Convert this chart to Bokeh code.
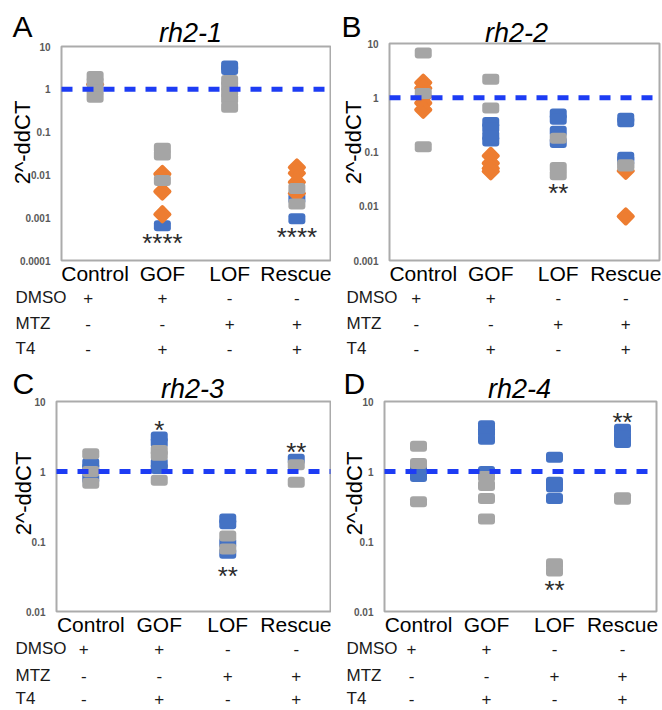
import math
from bokeh.plotting import figure
from bokeh.models import Range1d, Label, FixedTicker, CustomJSTickFormatter
from bokeh.layouts import row, column
from bokeh.embed import file_html
from bokeh.resources import INLINE
from bokeh.core.properties import value

# ---------------- data ----------------
CATEGORIES = ["Control", "GOF", "LOF", "Rescue"]
CONDITIONS = ["DMSO", "MTZ", "T4"]
DMSO_SIGNS = ["+", "+", "-", "-"]
MTZ_SIGNS = ["-", "-", "+", "+"]
T4_SIGNS = ["-", "+", "-", "+"]

LETTERS = ["A", "B", "C", "D"]
GENES = ["rh2-1", "rh2-2", "rh2-3", "rh2-4"]
Y_LABEL = "2^-ddCT"

TICKS_A = [0.0001, 0.001, 0.01, 0.1, 1, 10]
TICKS_B = [0.001, 0.01, 0.1, 1, 10]
TICKS_C = [0.01, 0.1, 1, 10]
TICKS_D = [0.01, 0.1, 1, 10]

# rh2-1
A_GRAY = {"Control": [2.0, 1.45, 0.95, 0.65], "GOF": [0.042, 0.029, 0.0074],
          "LOF": [1.6, 1.2, 0.85, 0.6, 0.38], "Rescue": [0.0048, 0.0021]}
A_BLUE = {"GOF": [0.00065], "LOF": [3.5, 2.9], "Rescue": [0.0028, 0.00095]}
A_ORANGE = {"Control": [1.3], "GOF": [0.0105, 0.0041, 0.0012],
            "Rescue": [0.015, 0.011, 0.0068, 0.0037]}
A_STAR_CAT = ["GOF", "Rescue"]
A_STAR_TXT = ["****", "****"]
A_STAR_Y = [0.0003, 0.00041]

# rh2-2
B_GRAY = {"Control": [6.7, 1.2, 0.125], "GOF": [2.2, 0.65],
          "LOF": [0.18, 0.052, 0.038], "Rescue": [0.058, 0.055]}
B_BLUE = {"GOF": [0.35, 0.28, 0.2, 0.16], "LOF": [0.5, 0.4, 0.24, 0.15],
          "Rescue": [0.42, 0.36, 0.08, 0.07]}
B_ORANGE = {"Control": [1.9, 1.5, 1.05, 0.8, 0.6], "GOF": [0.085, 0.062, 0.05, 0.044],
            "Rescue": [0.045, 0.0065]}
B_STAR_CAT = ["LOF"]
B_STAR_TXT = ["**"]
B_STAR_Y = [0.02]

# rh2-3
C_GRAY = {"Control": [1.8, 1.0, 0.68], "GOF": [2.0, 1.7, 0.75],
          "LOF": [0.12, 0.078], "Rescue": [1.25, 0.7]}
C_BLUE = {"Control": [1.3, 1.1, 0.8], "GOF": [3.1, 2.6, 1.3, 1.1],
          "LOF": [0.21, 0.18, 0.095, 0.068], "Rescue": [1.5]}
C_ORANGE = {}
C_STAR_CAT = ["GOF", "LOF", "Rescue"]
C_STAR_TXT = ["*", "**", "**"]
C_STAR_Y = [4.3, 0.035, 2.1]

# rh2-4
D_GRAY = {"Control": [2.3, 1.3, 0.37], "GOF": [0.85, 0.63, 0.41, 0.21],
          "LOF": [0.048, 0.038], "Rescue": [0.42, 0.40]}
D_BLUE = {"Control": [1.1, 0.85], "GOF": [4.5, 3.7, 2.9, 1.0],
          "LOF": [1.6, 0.7, 0.6, 0.41], "Rescue": [4.0, 3.2, 2.6]}
D_ORANGE = {}
D_STAR_CAT = ["Rescue", "LOF"]
D_STAR_TXT = ["**", "**"]
D_STAR_Y = [5.6, 0.0226]

# ---------------- styles ----------------
GRAY = "#a5a5a5"
BLUE = "#4472c4"
ORANGE = "#ed7d31"
LINE_BLUE = "#1d3cf4"
BOX_GRAY = "#ababab"
FONT = "Liberation Sans"


def cat_pos(cat):
    return CATEGORIES.index(cat) + 0.5


def series_xy(d):
    xs, ys = [], []
    for cat in CATEGORIES:
        for v in d.get(cat, []):
            xs.append(cat_pos(cat))
            ys.append(v)
    return xs, ys


def make_panel(letter, gene, gray, blue, orange, star_cat, star_txt, star_y, ticks, g):
    ox, oy = g["origin"]
    W, H = g["size"]
    L, R, T, B = g["frame"]
    n = len(CATEGORIES)
    # plot-box edges inside this figure (pixels)
    Lf, Rf, Tf, Bf = L - ox, R - ox, T - oy, B - oy
    kx = (Rf - Lf) / n
    x_start, x_end = -Lf / kx, n + (W - Rf) / kx
    lt0, lt1 = math.log10(ticks[0]), math.log10(ticks[-1])
    ky = (Bf - Tf) / (lt1 - lt0)
    y_start, y_end = 10 ** (lt0 - (H - Bf) / ky), 10 ** (lt1 + Tf / ky)

    p = figure(width=W, height=H, x_range=Range1d(x_start, x_end),
               y_range=Range1d(y_start, y_end), y_axis_type="log",
               output_backend="svg", toolbar_location=None, title=None,
               min_border_left=0, min_border_right=0, min_border_top=0, min_border_bottom=0)
    p.background_fill_color = "white"
    p.border_fill_color = "white"
    p.outline_line_color = None
    p.grid.visible = False

    # y axis fixed at the left edge of the plot box
    p.yaxis.fixed_location = 0
    p.yaxis.ticker = FixedTicker(ticks=ticks)
    p.yaxis.formatter = CustomJSTickFormatter(code="return String(parseFloat(tick.toPrecision(2)));")
    p.yaxis.major_label_text_font = FONT
    p.yaxis.major_label_text_font_style = "bold"
    p.yaxis.major_label_text_font_size = "10px"
    p.yaxis.major_label_text_color = "#595959"
    p.yaxis.major_label_standoff = 11
    p.yaxis.major_tick_out = 0
    p.yaxis.major_tick_in = 0
    p.yaxis.axis_line_color = None
    p.yaxis.major_tick_line_color = None
    p.yaxis.minor_tick_line_color = None

    # category axis fixed at the bottom of the plot box
    p.xaxis.fixed_location = ticks[0]
    p.xaxis.ticker = FixedTicker(ticks=[cat_pos(c) for c in CATEGORIES])
    p.xaxis.formatter = CustomJSTickFormatter(args=dict(cats=CATEGORIES),
                                              code="return cats[Math.round(tick - 0.5)];")
    p.xaxis.major_label_text_font = FONT
    p.xaxis.major_label_text_font_size = "21px"
    p.xaxis.major_label_text_color = "black"
    p.xaxis.major_label_standoff = 1
    p.xaxis.major_tick_out = 0
    p.xaxis.major_tick_in = 0
    p.xaxis.axis_line_color = None
    p.xaxis.major_tick_line_color = None
    p.xaxis.minor_tick_line_color = None

    # plot box
    p.quad(left=0, right=n, bottom=ticks[0], top=ticks[-1], fill_color=None,
           line_color=BOX_GRAY, line_width=2)

    # markers: blue, orange, gray (gray on top)
    bx, by = series_xy(blue)
    if bx:
        p.rect(x=bx, y=by, width=11, height=5, width_units="screen", height_units="screen",
               fill_color=BLUE, line_color=BLUE, line_width=6, line_join="round")
    ox_, oy_ = series_xy(orange)
    if ox_:
        p.scatter(x=ox_, y=oy_, marker="square", size=10, angle=math.pi / 4,
                  fill_color=ORANGE, line_color=ORANGE, line_width=4, line_join="round")
    gx, gy = series_xy(gray)
    if gx:
        p.rect(x=gx, y=gy, width=11, height=5, width_units="screen", height_units="screen",
               fill_color=GRAY, line_color=GRAY, line_width=6, line_join="round")

    # reference line at 1 across the plot box
    p.segment(x0=0, y0=1, x1=n, y1=1, line_color=LINE_BLUE, line_width=5, line_dash="11 10")

    # significance stars
    p.text(x=[cat_pos(c) for c in star_cat], y=star_y, text=star_txt, text_font=value(FONT),
           text_font_size="26px", text_align="center", text_baseline="middle",
           y_offset=3, text_color="#2b2b2b")

    def sx(px):
        return px - ox

    def sy(py):
        return H - (py - oy)

    lx, ly = g["letter"]
    p.add_layout(Label(x=sx(lx), y=sy(ly), x_units="screen", y_units="screen", text=letter,
                       text_font=FONT, text_font_size="30px", text_color="black",
                       text_align="left", text_baseline="middle"))
    tx, ty = g["title"]
    p.add_layout(Label(x=sx(tx), y=sy(ty), x_units="screen", y_units="screen", text=gene,
                       text_font=FONT, text_font_size="27px", text_font_style="italic",
                       text_color="black", text_align="center", text_baseline="middle"))
    yx, yy = g["ylabel"]
    p.add_layout(Label(x=sx(yx), y=sy(yy), x_units="screen", y_units="screen", text=Y_LABEL,
                       angle=math.pi / 2, text_font=FONT, text_font_size="22px",
                       text_color="black", text_align="center", text_baseline="middle"))

    # treatment table below the axis (columns at category centres)
    for cond, signs, ry in zip(CONDITIONS, [DMSO_SIGNS, MTZ_SIGNS, T4_SIGNS], g["rows"]):
        p.add_layout(Label(x=sx(g["rowx"]), y=sy(ry), x_units="screen", y_units="screen",
                           text=cond, text_font=FONT, text_font_size="17px",
                           text_color="#1a1a1a", text_align="left", text_baseline="middle"))
        for i, (cat, s) in enumerate(zip(CATEGORIES, signs)):
            p.add_layout(Label(x=cat_pos(cat), y=sy(ry), x_units="data", y_units="screen",
                               x_offset=-7 if i == 0 else 0,
                               text=s, text_font=FONT, text_font_size="17px",
                               text_color="#1a1a1a", text_align="center",
                               text_baseline="middle"))
    return p


GEOM = [
    dict(origin=(0, 0), size=(331, 358), frame=(61, 330, 46, 260),
         letter=(12, 26), title=(190, 32), ylabel=(22, 142), rowx=15, rows=(297, 323, 348)),
    dict(origin=(331, 0), size=(331, 358), frame=(389, 659, 43, 260),
         letter=(341, 26), title=(516, 32), ylabel=(353, 142), rowx=346, rows=(297, 323, 348)),
    dict(origin=(0, 358), size=(331, 352), frame=(56, 330, 401, 611),
         letter=(12, 383), title=(192, 388), ylabel=(23, 493), rowx=15, rows=(648, 675, 698)),
    dict(origin=(331, 358), size=(331, 352), frame=(384, 656, 401, 611),
         letter=(343, 383), title=(519, 388), ylabel=(354, 493), rowx=346, rows=(648, 675, 698)),
]

pa = make_panel(LETTERS[0], GENES[0], A_GRAY, A_BLUE, A_ORANGE,
                A_STAR_CAT, A_STAR_TXT, A_STAR_Y, TICKS_A, GEOM[0])
pb = make_panel(LETTERS[1], GENES[1], B_GRAY, B_BLUE, B_ORANGE,
                B_STAR_CAT, B_STAR_TXT, B_STAR_Y, TICKS_B, GEOM[1])
pc = make_panel(LETTERS[2], GENES[2], C_GRAY, C_BLUE, C_ORANGE,
                C_STAR_CAT, C_STAR_TXT, C_STAR_Y, TICKS_C, GEOM[2])
pd = make_panel(LETTERS[3], GENES[3], D_GRAY, D_BLUE, D_ORANGE,
                D_STAR_CAT, D_STAR_TXT, D_STAR_Y, TICKS_D, GEOM[3])

layout = column(row(pa, pb), row(pc, pd))
open("out.html", "w").write(file_html(layout, INLINE))
